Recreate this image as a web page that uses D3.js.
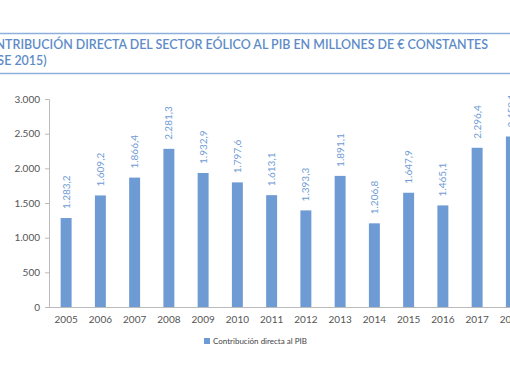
<!DOCTYPE html>
<html><head><meta charset="utf-8">
<script src="https://cdn.jsdelivr.net/npm/d3@7"></script>
<style>body{margin:0;background:#fff;overflow:hidden}svg{display:block}</style>
</head><body>
<script>
const years = ["2005","2006","2007","2008","2009","2010","2011","2012","2013","2014","2015","2016","2017","2018"];
const values = [1283.2,1609.2,1866.4,2281.3,1932.9,1797.6,1613.1,1393.3,1891.1,1206.8,1647.9,1465.1,2296.4,2459.1];
const yTicks = [0,500,1000,1500,2000,2500,3000];
const titleLines = ["CONTRIBUCIÓN DIRECTA DEL SECTOR EÓLICO AL PIB EN MILLONES DE € CONSTANTES","(BASE 2015)"];
const legendLabel = "Contribución directa al PIB";

const W=510,H=382;
const svg=d3.select("body").append("svg").attr("width",W).attr("height",H);
const blue="#6f9bd5", titleBlue="#5d8bc8";
const loc = d3.formatLocale({decimal:",",thousands:".",grouping:[3],currency:["",""]});
const fmt = v => loc.format(",.1f")(v);
const fmtT = v => loc.format(",.0f")(v);

// title rules
svg.append("line").attr("x1",0).attr("x2",W).attr("y1",33.5).attr("y2",33.5).attr("stroke","#8cafdc").attr("stroke-width",1.5);
svg.append("line").attr("x1",0).attr("x2",W).attr("y1",73.5).attr("y2",73.5).attr("stroke","#8cafdc").attr("stroke-width",1.5);
const t1=svg.append("text").attr("x",488).attr("y",48.5).attr("text-anchor","end")
  .attr("font-family","Lato, 'Open Sans', sans-serif").attr("font-size",12.45).attr("font-weight",600).attr("fill",titleBlue).text(titleLines[0]);
const bb=t1.node().getBBox();
svg.append("text").attr("x",bb.x).attr("y",65)
  .attr("font-family","Lato, 'Open Sans', sans-serif").attr("font-size",12.45).attr("font-weight",600).attr("fill",titleBlue).text(titleLines[1]);

const x=d3.scaleBand().domain(years).range([49,49+14*34.25]).paddingInner(0.68).paddingOuter(0.34);
const y=d3.scaleLinear().domain([0,3000]).range([307,99]);

// y axis
const ya=svg.append("g").attr("transform","translate(49,0)").call(d3.axisLeft(y).tickValues(yTicks).tickSize(4).tickPadding(5).tickFormat(fmtT));
ya.select(".domain").attr("stroke","#bbb").attr("d","M-4,99.5H0.5V307.5");
ya.selectAll(".tick line").attr("stroke","#bbb");
ya.selectAll("text").attr("font-family","Lato, sans-serif").attr("font-size",10).attr("fill","#555");

// x axis
const xa=svg.append("g").attr("transform","translate(0,307)").call(d3.axisBottom(x).tickSize(0).tickPadding(9));
xa.select(".domain").attr("stroke","#bbb").attr("d","M49,0.5H"+W);
xa.selectAll("text").attr("font-family","Lato, sans-serif").attr("font-size",10).attr("fill","#555");

// bars
svg.selectAll("rect.bar").data(values).join("rect").attr("class","bar")
  .attr("x",(d,i)=>x(years[i])).attr("width",x.bandwidth())
  .attr("y",d=>y(d)).attr("height",d=>y(0)-y(d)).attr("fill",blue);

// labels
svg.selectAll("text.val").data(values).join("text").attr("class","val")
  .attr("transform",(d,i)=>`translate(${x(years[i])+x.bandwidth()/2+3.5},${y(d)-9}) rotate(-90)`)
  .attr("font-family","Lato, sans-serif").attr("font-size",10).attr("fill",blue).text(d=>fmt(d));

// legend
svg.append("rect").attr("x",204).attr("y",338).attr("width",6).attr("height",6).attr("fill",blue);
svg.append("text").attr("x",213).attr("y",344).attr("font-family","Lato, sans-serif").attr("font-size",8).attr("fill","#444").text(legendLabel);
</script>
</body></html>
